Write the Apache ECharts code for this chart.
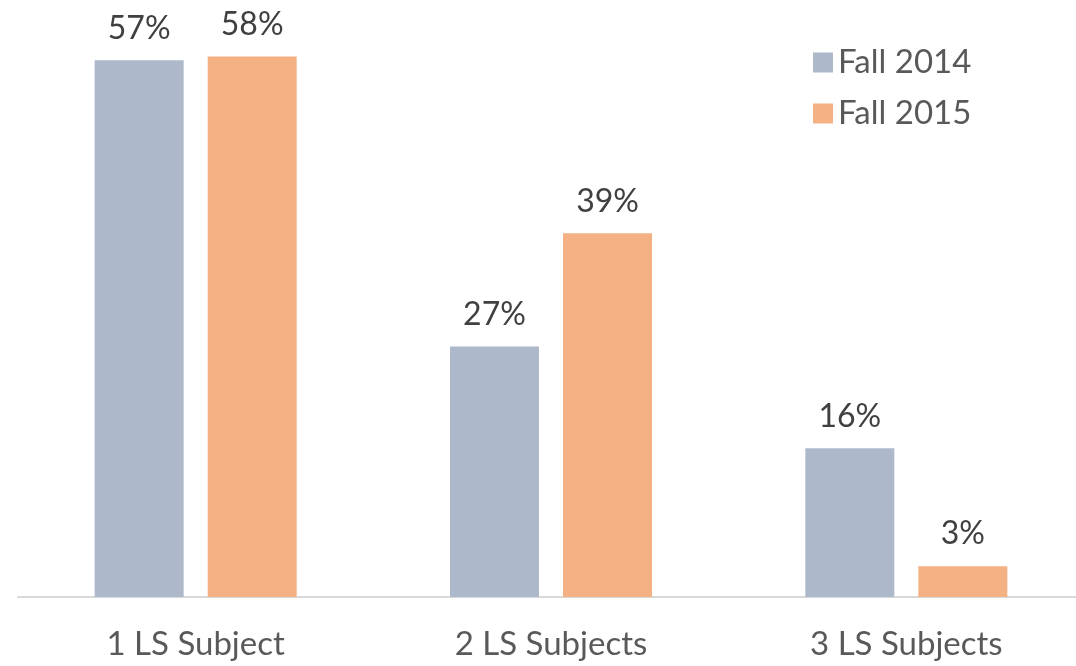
<!DOCTYPE html>
<html>
<head>
<meta charset="utf-8">
<script src="https://cdn.jsdelivr.net/npm/echarts@6/dist/echarts.min.js"></script>
<style>
  html, body { margin: 0; padding: 0; background: #fff; overflow: hidden; }
  /* a bit wider than the window: the axis runs off the right edge */
  #chart { width: 1084px; height: 666px; }
</style>
</head>
<body>
<div id="chart"></div>
<script>
// data (percent of students)
const categories = ['1 LS Subject', '2 LS Subjects', '3 LS Subjects']
const seriesNames = ['Fall 2014', 'Fall 2015']
const fall2014 = [57.4, 26.8, 15.9]
const fall2015 = [57.8, 38.9, 3.3]
const colors = ['#adb9ca', '#f4b183']

const chart = echarts.init(document.getElementById('chart'))

const labelStyle = {
  show: true,
  position: 'top',
  distance: 16,
  color: '#404040',
  fontFamily: 'Lato',
  fontSize: 32,
  formatter: (p) => Math.round(p.value) + '%'
}

chart.setOption({
  backgroundColor: '#fff',
  animation: false,
  grid: { left: 18, right: 0, top: 36, bottom: 69, containLabel: false },
  legend: {
    orient: 'vertical',
    left: 813,
    top: 46,
    padding: 0,
    itemWidth: 20,
    itemHeight: 20,
    itemGap: 18,
    icon: 'rect',
    textStyle: { color: '#595959', fontFamily: 'Lato', fontSize: 33 },
    data: seriesNames
  },
  xAxis: {
    type: 'category',
    data: categories,
    axisLine: { lineStyle: { color: '#d9d9d9', width: 2 } },
    axisTick: { show: false },
    axisLabel: { color: '#595959', fontFamily: 'Lato', fontSize: 33, margin: 31 }
  },
  yAxis: {
    type: 'value',
    min: 0,
    max: 60,
    show: false,
    splitLine: { show: false }
  },
  series: [
    {
      name: seriesNames[0],
      type: 'bar',
      data: fall2014,
      barWidth: 89,
      barGap: '27%',
      itemStyle: { color: colors[0] },
      label: labelStyle
    },
    {
      name: seriesNames[1],
      type: 'bar',
      data: fall2015,
      barWidth: 89,
      barGap: '27%',
      itemStyle: { color: colors[1] },
      label: labelStyle
    }
  ]
})
</script>
</body>
</html>
